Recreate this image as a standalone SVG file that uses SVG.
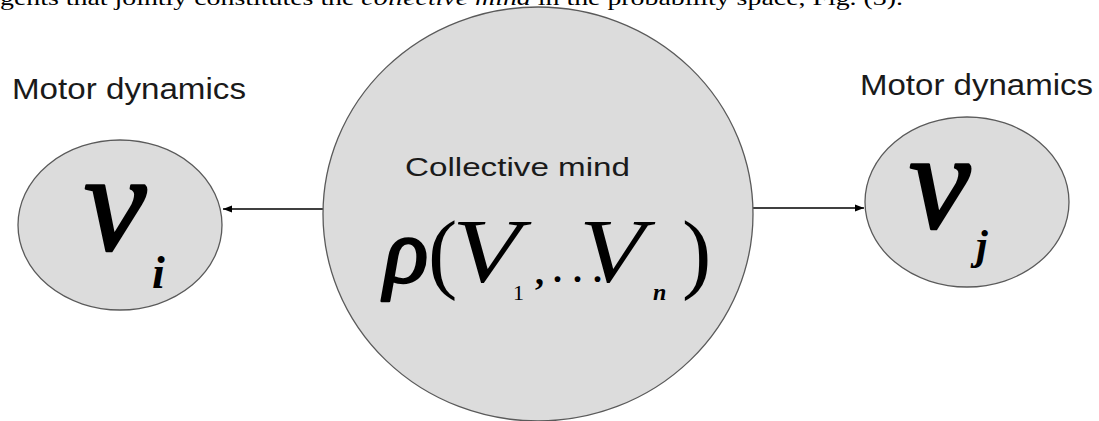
<svg xmlns="http://www.w3.org/2000/svg" width="1099" height="421" viewBox="0 0 1099 421">
<style>
.node{fill:#dcdcdc;stroke:#5a5a5a;stroke-width:1.3}
.lbl{font-family:"Liberation Sans",Arial,sans-serif;fill:#1a1a1a}
.math{font-family:"Liberation Serif","Times New Roman",serif;fill:#000}
.thick{stroke:#000;stroke-width:2.5;stroke-linejoin:round}
.edge{stroke:#000;stroke-width:1.3;fill:none}
</style>
<defs>
<marker id="ah" viewBox="0 0 10 10" refX="10" refY="5" markerWidth="9" markerHeight="9" markerUnits="userSpaceOnUse" orient="auto">
<path d="M0,1 L10,5 L0,9 Z" fill="#000"/>
</marker>
</defs>
<rect width="1099" height="421" fill="#fff"/>
<text x="0" y="5" class="math" font-size="22" textLength="903" lengthAdjust="spacingAndGlyphs" fill="#222">gents that jointly constitutes the <tspan font-style="italic">collective mind</tspan> in the probability space, Fig. (3).</text>
<g id="connectors">
<line class="edge" x1="323" y1="209" x2="223" y2="209" marker-end="url(#ah)"/>
<line class="edge" x1="753" y1="208" x2="864" y2="208" marker-end="url(#ah)"/>
</g>
<g id="collective">
<ellipse class="node" cx="538" cy="214" rx="215" ry="207"/>
<text class="lbl" x="405" y="176" font-size="26" textLength="225" lengthAdjust="spacingAndGlyphs">Collective mind</text>
<text class="math thick" x="384" y="282" font-size="92" font-style="italic" stroke-width="1.5">ρ</text>
<text class="math" x="428" y="282" font-size="88">(</text>
<text class="math" x="452" y="282" font-size="90" font-style="italic" transform="translate(452,0) scale(1.25,1) translate(-452,0)">V</text>
<text class="math" x="513" y="300" font-size="22">1</text>
<text class="math" x="535" y="284" font-size="36" font-weight="bold">,</text>
<text class="math" x="553" y="282" font-size="36" font-weight="bold" letter-spacing="11">...</text>
<text class="math" x="579" y="282" font-size="90" font-style="italic" transform="translate(579,0) scale(1.2,1) translate(-579,0)">V</text>
<text class="math" x="653" y="300" font-size="24" font-style="italic" font-weight="bold">n</text>
<text class="math" x="682" y="282" font-size="88">)</text>
</g>
<g id="motor-i">
<text class="lbl" x="12" y="99" font-size="29" textLength="234" lengthAdjust="spacingAndGlyphs">Motor dynamics</text>
<ellipse class="node" cx="120" cy="225" rx="102" ry="85"/>
<text class="math thick" x="84" y="250" font-size="140" font-style="italic" stroke-width="3">v</text>
<text class="math" x="152" y="288" font-size="46" font-style="italic" font-weight="bold">i</text>
</g>
<g id="motor-j">
<text class="lbl" x="860" y="95" font-size="29" textLength="233" lengthAdjust="spacingAndGlyphs">Motor dynamics</text>
<ellipse class="node" cx="967" cy="202" rx="102" ry="85"/>
<text class="math thick" x="909" y="228" font-size="138" font-style="italic" stroke-width="3">v</text>
<text class="math" x="976" y="259" font-size="42" font-style="italic" font-weight="bold">j</text>
</g>
</svg>
